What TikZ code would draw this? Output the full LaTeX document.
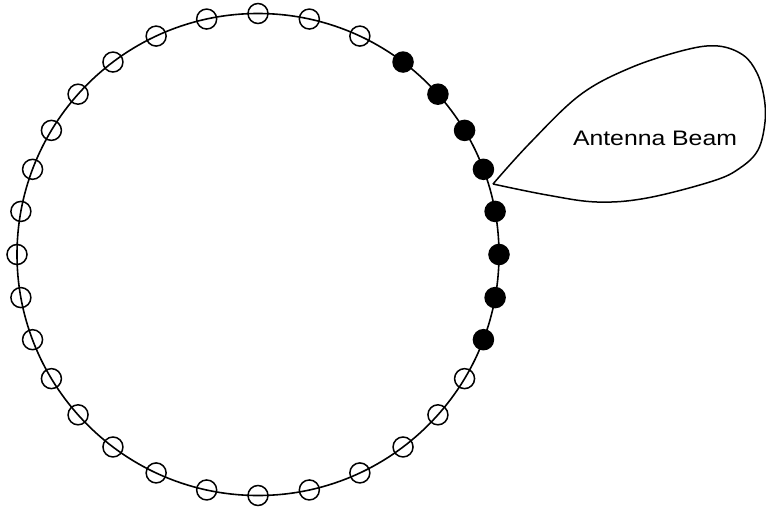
\documentclass[tikz,border=0pt]{standalone}
\usepackage{fontspec}
\setmainfont{Liberation Sans}
\begin{document}
\begin{tikzpicture}[x=1pt,y=-1pt,
  ring/.style={line width=1.6pt},
  elem/.style={circle,draw,line width=1.5pt,minimum size=20pt,inner sep=0pt},
  elemon/.style={elem,fill=black},
  beam/.style={line width=1.5pt,line join=round}]
\useasboundingbox (0,0) rectangle (766,509);
\node[circle,draw,ring,minimum size=482pt,inner sep=0pt] (ring) at (258,254.5) {};
\foreach \a [count=\i] in {0,12.3,25,37,48.3,59,69.3,79.7,90,100.3,110.7,121,131.7,143,155,167.7,180,192.3,205,217,228.3,239,249.3,259.7,270,280.3,290.7,301,311.7,323,335,347.7}{
  \ifnum\i>3 \ifnum\i<12
    \node[elemon] (s\i) at ({258+241*sin(\a)},{254.5-241*cos(\a)}) {};
  \else
    \node[elem] (s\i) at ({258+241*sin(\a)},{254.5-241*cos(\a)}) {};
  \fi\else
    \node[elem] (s\i) at ({258+241*sin(\a)},{254.5-241*cos(\a)}) {};
  \fi
}
\coordinate (apex) at (493,184);
\draw[beam] plot[smooth,tension=0.6] coordinates {(apex) (530,143) (580,95) (630,68) (685,50) (718,46) (743,55) (757,73) (764,97) (765,122) (758,150) (740,168) (713,181) (647,198) (597,202) (547,195) (apex)};
\node[font=\fontsize{21}{24}\selectfont,anchor=base,xscale=1.18,transform shape] (label) at (655,145) {Antenna Beam};
\end{tikzpicture}
\end{document}
